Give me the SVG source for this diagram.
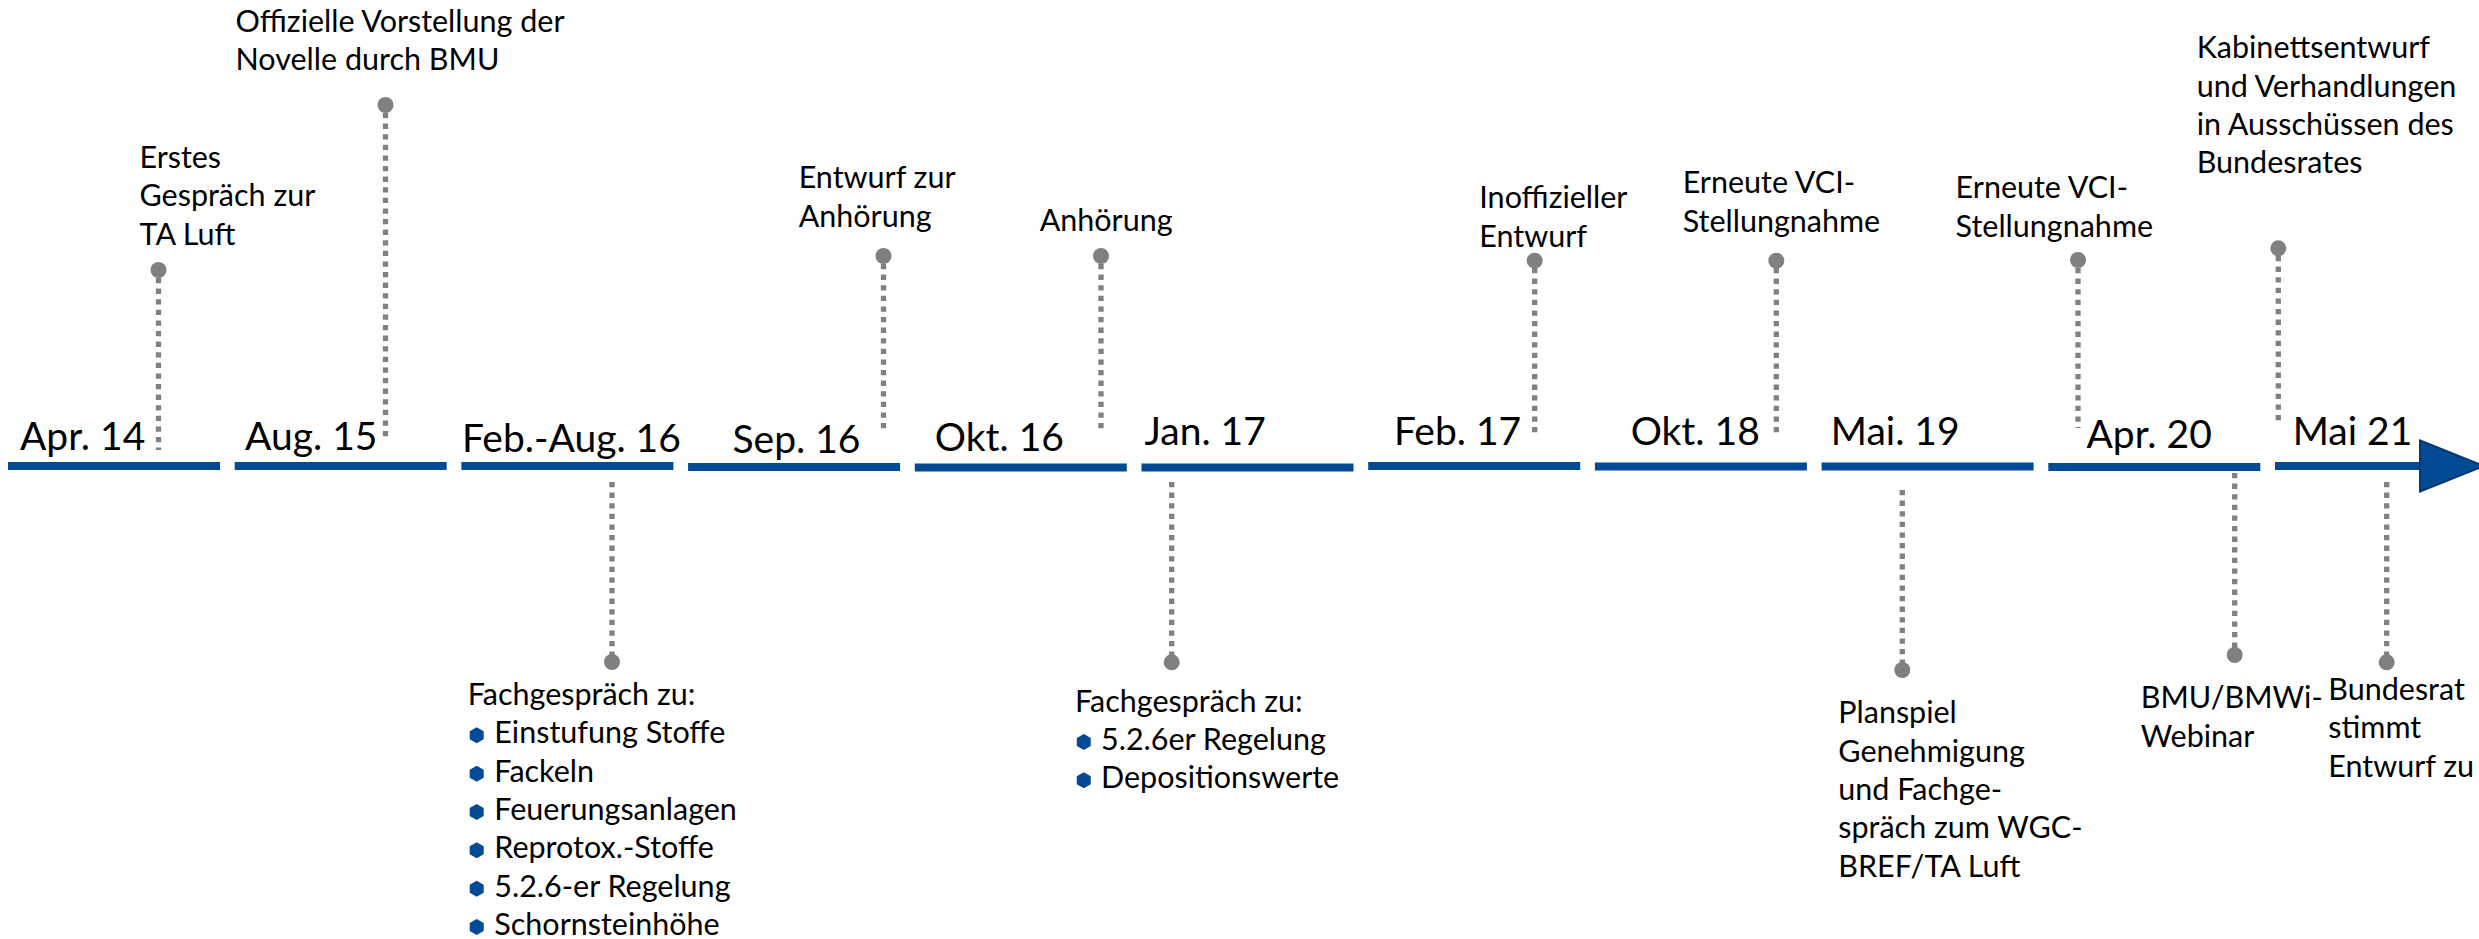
<svg xmlns="http://www.w3.org/2000/svg" width="2479" height="939" viewBox="0 0 2479 939">
<defs>
<style>
text{font-family:"Lato","Source Sans Pro","Liberation Sans",sans-serif;fill:#000}
.d{font-size:39px}
.l{font-size:30.5px}
.bar{fill:#034A94}
.dot{fill:#808080}
.con{stroke:#808080;stroke-width:5.3;stroke-dasharray:5.3 5.3;fill:none}
.hex{fill:#034A94}
</style>
<polygon id="hx" points="0,-8 7,-4 7,4 0,8 -7,4 -7,-4"/>
</defs>
<rect width="2479" height="939" fill="#fff"/>
<g id="timeline">
<rect class="bar" x="8" y="462" width="212" height="8"/>
<rect class="bar" x="234.7" y="462" width="212" height="8"/>
<rect class="bar" x="461.4" y="462" width="212" height="8"/>
<rect class="bar" x="688.1" y="463" width="212" height="8"/>
<rect class="bar" x="914.8" y="463.5" width="212" height="8"/>
<rect class="bar" x="1141.5" y="463.5" width="212" height="8"/>
<rect class="bar" x="1368.2" y="462" width="212" height="8"/>
<rect class="bar" x="1594.9" y="462.5" width="212" height="8"/>
<rect class="bar" x="1821.6" y="462.5" width="212" height="8"/>
<rect class="bar" x="2048.3" y="463" width="212" height="8"/>
<rect class="bar" x="2275" y="462" width="150" height="8"/>
<polygon points="2420,440.5 2484,466 2420,491.5" fill="#034A94" stroke="#02386F" stroke-width="2"/>
</g>
<g id="connectors">
<path class="con" d="M158.5,278V450"/>
<path class="con" d="M385.5,113V437"/>
<path class="con" d="M612,482V655"/>
<path class="con" d="M883.5,264V432"/>
<path class="con" d="M1101,264V432"/>
<path class="con" d="M1171.7,482V655"/>
<path class="con" d="M1534.7,268V435"/>
<path class="con" d="M1776.3,268V435"/>
<path class="con" d="M1902.3,490V663"/>
<path class="con" d="M2078,268V428"/>
<path class="con" d="M2234.7,473V648"/>
<path class="con" d="M2278.3,256V423"/>
<path class="con" d="M2386.7,482V655"/>
</g>
<g id="n-apr14">
<text class="d" x="20" y="450">Apr. 14</text>
<circle class="dot" cx="158.5" cy="270" r="8"/>
<text class="l" x="139.5" y="167.5">Erstes</text>
<text class="l" x="139.5" y="206">Gespräch zur</text>
<text class="l" x="139.5" y="244.5">TA Luft</text>
</g>
<g id="n-aug15">
<text class="d" x="245" y="450">Aug. 15</text>
<circle class="dot" cx="385.5" cy="105" r="8"/>
<text class="l" x="235.5" y="31.5">Offizielle Vorstellung der</text>
<text class="l" x="235.5" y="69.5">Novelle durch BMU</text>
</g>
<g id="n-febaug16">
<text class="d" x="462" y="451.5">Feb.-Aug. 16</text>
<circle class="dot" cx="612" cy="662" r="8"/>
<text class="l" x="467.7" y="705">Fachgespräch zu:</text>
<use href="#hx" class="hex" x="476.7" y="735.3"/>
<text class="l" x="494.3" y="743.3">Einstufung Stoffe</text>
<use href="#hx" class="hex" x="476.7" y="773.7"/>
<text class="l" x="494.3" y="781.7">Fackeln</text>
<use href="#hx" class="hex" x="476.7" y="812"/>
<text class="l" x="494.3" y="820">Feuerungsanlagen</text>
<use href="#hx" class="hex" x="476.7" y="850.3"/>
<text class="l" x="494.3" y="858.3">Reprotox.-Stoffe</text>
<use href="#hx" class="hex" x="476.7" y="888.7"/>
<text class="l" x="494.3" y="896.7">5.2.6-er Regelung</text>
<use href="#hx" class="hex" x="476.7" y="927"/>
<text class="l" x="494.3" y="935">Schornsteinhöhe</text>
</g>
<g id="n-sep16">
<text class="d" x="732.5" y="452.7">Sep. 16</text>
<circle class="dot" cx="883.5" cy="256" r="8"/>
<text class="l" x="798.7" y="188.3">Entwurf zur</text>
<text class="l" x="798.7" y="226.7">Anhörung</text>
</g>
<g id="n-okt16">
<text class="d" x="934.8" y="450.7">Okt. 16</text>
<circle class="dot" cx="1101" cy="256" r="8"/>
<text class="l" x="1039.7" y="230.7">Anhörung</text>
</g>
<g id="n-jan17">
<text class="d" x="1144.6" y="445">Jan. 17</text>
<circle class="dot" cx="1171.7" cy="662.3" r="8"/>
<text class="l" x="1075" y="711.7">Fachgespräch zu:</text>
<use href="#hx" class="hex" x="1083.8" y="742"/>
<text class="l" x="1101" y="750">5.2.6er Regelung</text>
<use href="#hx" class="hex" x="1083.8" y="780.3"/>
<text class="l" x="1101" y="788.3">Depositionswerte</text>
</g>
<g id="n-feb17">
<text class="d" x="1394" y="445">Feb. 17</text>
<circle class="dot" cx="1534.7" cy="260.7" r="8"/>
<text class="l" x="1479.3" y="208.3">Inoffizieller</text>
<text class="l" x="1479.3" y="246.7">Entwurf</text>
</g>
<g id="n-okt18">
<text class="d" x="1630.7" y="445">Okt. 18</text>
<circle class="dot" cx="1776.3" cy="260.7" r="8"/>
<text class="l" x="1682.7" y="193.3">Erneute VCI-</text>
<text class="l" x="1682.7" y="231.7">Stellungnahme</text>
</g>
<g id="n-mai19">
<text class="d" x="1830.8" y="445">Mai. 19</text>
<circle class="dot" cx="1902.3" cy="670" r="8"/>
<text class="l" x="1838.3" y="723.3">Planspiel</text>
<text class="l" x="1838.3" y="761.7">Genehmigung</text>
<text class="l" x="1838.3" y="800">und Fachge-</text>
<text class="l" x="1838.3" y="838.3">spräch zum WGC-</text>
<text class="l" x="1838.3" y="876.7">BREF/TA Luft</text>
</g>
<g id="n-apr20">
<text class="d" x="2086.5" y="448.3">Apr. 20</text>
<circle class="dot" cx="2078" cy="260" r="8"/>
<text class="l" x="1955.6" y="198.3">Erneute VCI-</text>
<text class="l" x="1955.6" y="236.7">Stellungnahme</text>
<circle class="dot" cx="2234.7" cy="655" r="8"/>
<text class="l" x="2140.7" y="708.3">BMU/BMWi-</text>
<text class="l" x="2140.7" y="746.7">Webinar</text>
</g>
<g id="n-mai21">
<text class="d" x="2292.7" y="445">Mai 21</text>
<circle class="dot" cx="2278.3" cy="248.3" r="8"/>
<text class="l" x="2196.7" y="58.3">Kabinettsentwurf</text>
<text class="l" x="2196.7" y="96.7">und Verhandlungen</text>
<text class="l" x="2196.7" y="135">in Ausschüssen des</text>
<text class="l" x="2196.7" y="172.7">Bundesrates</text>
<circle class="dot" cx="2386.7" cy="662.3" r="8"/>
<text class="l" x="2328.3" y="700">Bundesrat</text>
<text class="l" x="2328.3" y="738.3">stimmt</text>
<text class="l" x="2328.3" y="776.7">Entwurf zu</text>
</g>
</svg>
